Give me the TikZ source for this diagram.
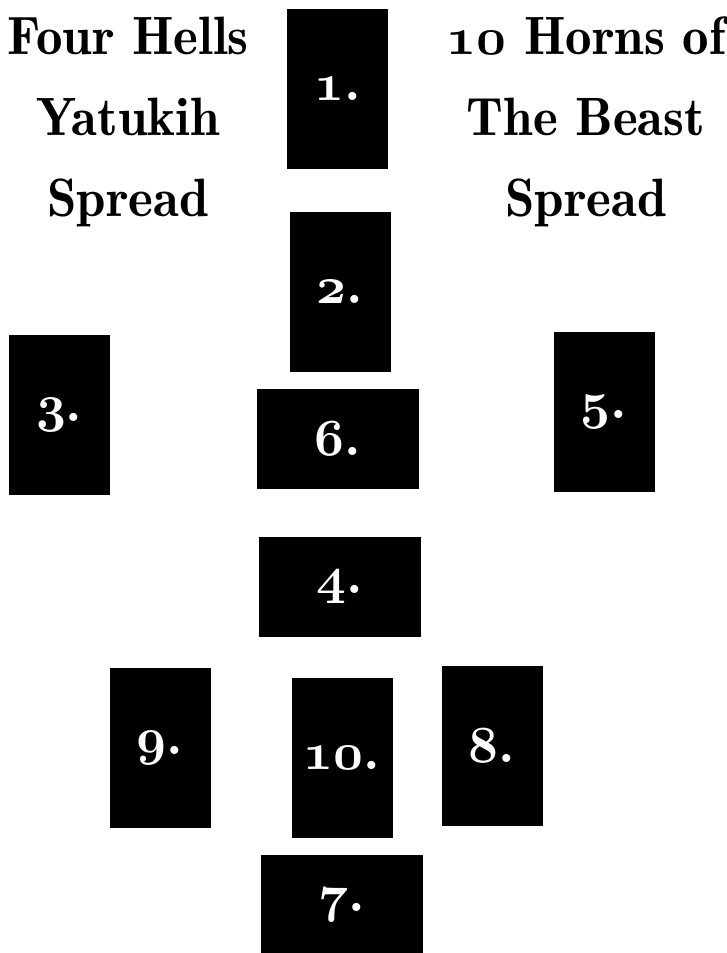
\documentclass[tikz,border=0pt]{standalone}
\usepackage{fontspec}
\usepackage{tikz}
% heavier roman for the titles
\newfontfamily\titlefont{lmromandemi10-regular.otf}[FakeStretch=0.98]
% old style figures
\font\osfont=cmmib10 at 52pt
\newcommand{\osf}[1]{{\osfont #1}}
\newcommand{\cardno}[1]{{\osfont #1\char"3A}}

\begin{document}
\begin{tikzpicture}[
    x=1pt, y=-1pt,
    card/.style={fill=black, text=white, inner sep=0pt,
      minimum width=101pt, minimum height=160pt,
      font=\titlefont\fontsize{54}{60}\selectfont},
    cardwide/.style={card, minimum width=162pt, minimum height=100pt},
    heading/.style={align=center, inner sep=0pt,
      font=\titlefont\fontsize{54}{81}\selectfont}
    ]

    \useasboundingbox[fill=white] (0,0) rectangle (727,953);

    % titulos
    \node[heading] (left) at (128,122)
    {Four Hells\\Yatukih\\Spread};

    \node[heading] (right) at (586,122)
    {\osf{10} Horns of\\The Beast\\Spread};

    % cartas
    \node[card] (c1) at (337.5,89.3) {\cardno{1}};
    \node[card] (c2) at (340,292.3) {\cardno{2}};
    \node[card] (c3) at (59.3,415) {\cardno{3}};
    \node[card] (c5) at (604,411.7) {\cardno{5}};
    \node[cardwide] (c6) at (337.5,439.2) {\cardno{6}};
    \node[cardwide] (c4) at (339.7,586.7) {\cardno{4}};
    \node[card] (c9) at (160,748.3) {\cardno{9}};
    \node[card] (c10) at (342.2,758.3) {\cardno{10}};
    \node[card] (c8) at (492.2,745.7) {\cardno{8}};
    \node[cardwide] (c7) at (342.2,905) {\cardno{7}};

\end{tikzpicture}
\end{document}
